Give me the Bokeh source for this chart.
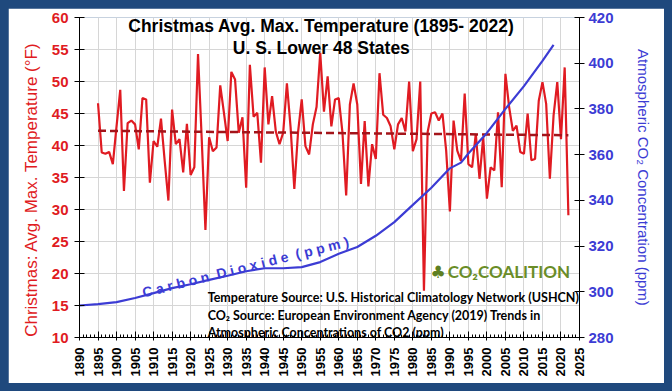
import math
from bokeh.plotting import figure
from bokeh.models import Range1d, LinearAxis, FixedTicker, Label
from bokeh.embed import file_html
from bokeh.resources import INLINE

# ---------------- data ----------------
years = list(range(1895, 2023))
temps = [
    46.6, 38.9, 38.7, 39.0, 37.1,                     # 1895-1899
    43.0, 48.7, 32.9, 43.5, 43.9, 43.3, 39.4, 47.4, 47.2, 34.2,   # 1900-1909
    40.7, 39.8, 44.2, 37.6, 31.4, 45.6, 40.2, 41.0, 35.8, 43.4,   # 1910-1919
    35.4, 36.6, 54.3, 41.0, 26.8, 41.3, 39.1, 39.7, 49.4, 45.1,   # 1920-1929
    40.7, 51.5, 50.3, 42.0, 44.4, 33.4, 52.6, 44.5, 45.1, 37.3,   # 1930-1939
    52.2, 43.3, 47.7, 42.2, 40.2, 42.0, 49.7, 42.8, 33.2, 42.0,   # 1940-1949
    47.2, 39.9, 38.6, 43.3, 46.0, 54.5, 45.3, 50.8, 43.0, 47.2,   # 1950-1959
    47.4, 42.0, 32.2, 46.4, 49.7, 46.4, 34.0, 43.8, 33.6, 40.2,   # 1960-1969
    37.9, 51.3, 44.8, 44.3, 43.0, 39.4, 43.3, 44.3, 42.2, 50.0,   # 1970-1979
    39.1, 41.0, 50.0, 17.3, 42.1, 45.0, 45.2, 43.9, 45.0, 39.2,   # 1980-1989
    29.7, 43.9, 39.2, 37.6, 48.1, 37.1, 36.6, 41.8, 34.8, 41.3,   # 1990-1999
    31.7, 36.6, 36.1, 45.2, 33.5, 51.2, 46.0, 42.3, 43.1, 39.0,   # 2000-2009
    38.7, 45.0, 37.7, 37.9, 47.0, 49.9, 46.5, 34.8, 44.7, 49.9,   # 2010-2019
    41.0, 52.2, 29.1,                                 # 2020-2022
]
trend_years = [1895, 2022]
trend_temps = [42.3, 41.6]

co2_years = [1890, 1895, 1900, 1905, 1910, 1915, 1920, 1925, 1930, 1935,
             1940, 1945, 1950, 1955, 1960, 1965, 1970, 1975, 1980, 1985,
             1990, 1993, 1995, 2000, 2005, 2010, 2015, 2018]
co2_ppm = [294.0, 294.6, 295.5, 297.3, 299.4, 301.6, 303.3, 305.2, 307.0, 309.0,
           310.3, 310.3, 310.8, 313.0, 316.6, 319.6, 324.5, 330.5, 338.0, 345.5,
           354.0, 356.5, 360.5, 369.5, 380.0, 390.0, 401.0, 408.0]

x_ticks = list(range(1890, 2026, 5))
x_minor = list(range(1890, 2026, 1))
temp_ticks = list(range(10, 61, 5))
co2_ticks = list(range(280, 421, 20))

RED = "#E01B22"
DARK_RED = "#A3141A"
BLUE = "#3C3CD4"
GREEN = "#6A8D27"
NB = "\u00a0"
PAD = "\u2800"

# ---------------- figure ----------------
p = figure(width=656, height=375, output_backend="svg", toolbar_location=None,
           x_range=Range1d(1890, 2025), y_range=Range1d(10, 60),
           min_border_left=71, min_border_right=85, min_border_top=9,
           min_border_bottom=46, background_fill_color="white",
           border_fill_color="white", outline_line_color=None)
p.extra_y_ranges = {"co2": Range1d(280, 420)}

# grid
p.xgrid.ticker = FixedTicker(ticks=x_ticks)
p.ygrid.ticker = FixedTicker(ticks=temp_ticks)
p.grid.grid_line_color = "#D6D6D6"
p.grid.grid_line_width = 1

# left axis
la = p.yaxis[0]
la.ticker = FixedTicker(ticks=temp_ticks)
la.axis_label = "Christmas: Avg. Max. Temperature (°F)" + PAD * 2
la.axis_label_text_color = RED
la.axis_label_text_font = "Liberation Sans"
la.axis_label_text_font_style = "normal"
la.axis_label_text_font_size = "17px"
la.axis_label_standoff = 8
la.major_label_text_color = RED
la.major_label_text_font = "Liberation Sans"
la.major_label_text_font_style = "bold"
la.major_label_text_font_size = "15px"
la.major_label_standoff = 6
la.major_tick_in = 5
la.major_tick_out = 5
la.minor_tick_line_color = None
la.axis_line_color = "black"
la.major_tick_line_color = "black"

# bottom axis
ba = p.xaxis[0]
ba.ticker = FixedTicker(ticks=x_ticks, minor_ticks=x_minor)
ba.major_label_orientation = math.pi / 2
ba.major_label_text_font = "Liberation Sans"
ba.major_label_text_font_style = "bold"
ba.major_label_text_font_size = "13px"
ba.major_label_text_color = "black"
ba.major_label_standoff = 7
ba.major_tick_in = 6
ba.major_tick_out = 3
ba.minor_tick_in = 3
ba.minor_tick_out = 0
ba.axis_line_color = "black"

# right axis
ra = LinearAxis(y_range_name="co2", ticker=FixedTicker(ticks=co2_ticks))
ra.axis_label = "Atmospheric CO₂ Concentration (ppm)"
ra.axis_label_text_color = BLUE
ra.axis_label_text_font = "Liberation Sans"
ra.axis_label_text_font_style = "normal"
ra.axis_label_text_font_size = "15px"
ra.axis_label_standoff = 18
ra.major_label_text_color = BLUE
ra.major_label_text_font = "Liberation Sans"
ra.major_label_text_font_style = "bold"
ra.major_label_text_font_size = "15px"
ra.major_label_standoff = 4
ra.major_tick_in = 5
ra.major_tick_out = 5
ra.minor_tick_line_color = None
ra.axis_line_color = "black"
p.add_layout(ra, "right")

# ---------------- series ----------------
p.line(years, temps, line_color=RED, line_width=2.2)
p.line(trend_years, trend_temps, line_color=DARK_RED, line_width=2.5, line_dash="8 4")
p.line(co2_years, co2_ppm, y_range_name="co2", line_color=BLUE, line_width=2.2)

# ---------------- texts ----------------
def lab(x, y, text, size, color="black", style="bold", font="Liberation Sans",
        align="left", baseline="middle", angle=0.0):
    p.add_layout(Label(x=x, y=y, text=text, text_font_size=size, text_color=color,
                       text_font_style=style, text_font=font,
                       text_align=align, text_baseline=baseline, angle=angle))

lab(1955.3, 58.75, "Christmas Avg. Max. Temperature (1895- 2022)", "17.5px", align="center")
lab(1955.3, 55.3, "U. S. Lower 48 States", "17.5px", align="center")

gap = NB * 2
co2_label = gap.join([" ".join("Carbon"), " ".join("Dioxide"), " ".join("(ppm)")])
lab(1907, 17.0, co2_label, "14px", color=BLUE, style="bold",
    baseline="alphabetic", angle=0.245)

lab(1924.6, 16.25, "Temperature Source:  U.S. Historical Climatology Network (USHCN)", "12.5px",
    font="Lato")
lab(1924.6, 13.5, "CO₂ Source: European Environment Agency (2019) Trends in", "12.5px",
    font="Lato")
lab(1924.6, 10.8, "Atmospheric Concentrations of CO2 (ppm)", "12.5px", font="Lato")

lab(1986.8, 20.3, "♣", "17px", color="#5E7F22", style="normal", font="DejaVu Sans",
    align="center")
lab(1989.4, 20.3, "CO₂COALITION", "17px", color=GREEN, font="Lato")

html = file_html(p, INLINE)
html = html.replace(
    "</head>",
    "<style>html,body{background:#1F497D !important;}body{padding:8px !important;}</style></head>",
    1)
open("out.html", "w").write(html)
